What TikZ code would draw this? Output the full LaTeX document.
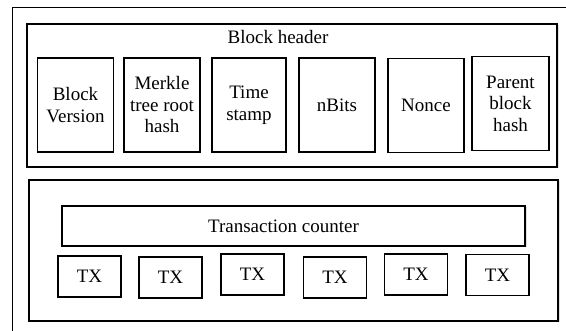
\documentclass[tikz,border=0pt]{standalone}
\usepackage{fontspec}
\setmainfont{Liberation Serif}
\usetikzlibrary{shadows}

\tikzset{
  field/.style={draw, line width=1.3pt, minimum width=76pt, minimum height=94pt, inner sep=0pt, align=center, font=\rmfamily\fontsize{19}{21.5}\selectfont},
  txbox/.style={draw, line width=1.1pt, minimum width=63pt, minimum height=41pt, inner sep=0pt, font=\rmfamily\fontsize{19}{21.5}\selectfont},
  part/.style={draw, fill=white, line width=1.3pt, inner sep=0pt, drop shadow={opacity=0.25, shadow xshift=1.5pt, shadow yshift=-1.5pt}},
}

\begin{document}
\begin{tikzpicture}[x=1pt,y=-1pt]
\useasboundingbox (0,0) rectangle (566,331);

\draw[line width=0.9pt] (566,7) -| (12,331);

\node[part, minimum width=530pt, minimum height=143pt](hdr) at (292,95.5) {};
\node[font=\rmfamily\fontsize{19}{21.5}\selectfont](hdrtxt) at (278,37) {Block header};

\node[field](ver) at (75.5,105) {Block\\Version};
\node[field](mrk) at (162,105) {Merkle\\tree root\\hash};
\node[field, minimum width=74pt](tim) at (249,105) {Time\\stamp};
\node[field](bits) at (337,105) {nBits};
\node[field](nonce) at (426,105.5) {Nonce};
\node[field, minimum width=77pt](prnt) at (510.5,103.5) {Parent\\block\\hash};

\node[part, minimum width=529pt, minimum height=141pt](body) at (293.5,250.5) {};
\node[part, minimum width=463pt, minimum height=40pt, font=\rmfamily\fontsize{19}{21.5}\selectfont](cnt) at (293.5,226) {\hspace*{-20pt}Transaction counter};

\node[txbox](tx1) at (89.5,276.5) {TX};
\node[txbox](tx2) at (170.5,277.5) {TX};
\node[txbox](tx3) at (252.5,274.5) {TX};
\node[txbox](tx4) at (335,277.5) {TX};
\node[txbox](tx5) at (416,274.5) {TX};
\node[txbox](tx6) at (497.5,275) {TX};

\end{tikzpicture}
\end{document}
